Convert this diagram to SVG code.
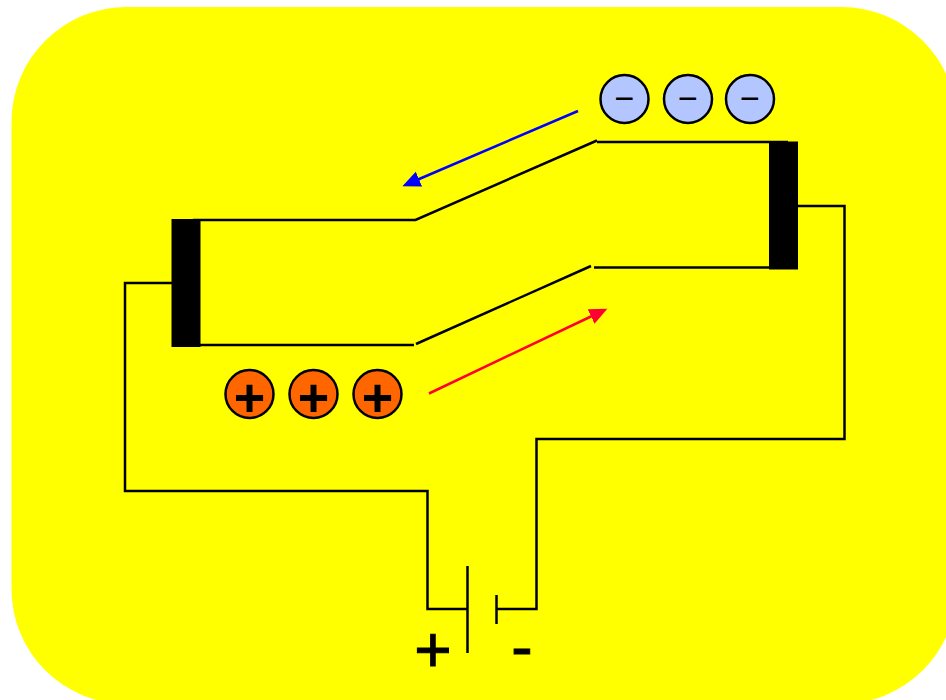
<svg xmlns="http://www.w3.org/2000/svg" width="946" height="700" viewBox="0 0 946 700">
<style>
.w{fill:none;stroke:#000;stroke-width:2.5;stroke-linejoin:miter}
.n circle{stroke:#000;stroke-width:2.5}
.neg circle{fill:#b3c6ff}
.pos circle{fill:#ff6600}
text{font-family:"Liberation Sans",Arial,sans-serif;fill:#000;text-anchor:middle}
.ps{font-size:54px;font-weight:700}
.ms{font-size:34px}
.big{font-size:64px;stroke:#000;stroke-width:1}
</style>
<defs>
<marker id="ab" markerUnits="userSpaceOnUse" markerWidth="20" markerHeight="18" refX="1" refY="9" orient="auto"><path d="M18 9L0 1V17Z" fill="#0000ff"/></marker>
<marker id="ar" markerUnits="userSpaceOnUse" markerWidth="20" markerHeight="18" refX="1" refY="9" orient="auto"><path d="M18 9L0 1V17Z" fill="#ff0033"/></marker>
</defs>
<rect id="background" x="11.500" y="7" width="945" height="697" rx="115" fill="#ffff00"/>
<g id="connectors">
<path class="w" d="M172 283H125V491H427.500V609H467"/>
<path class="w" d="M797 206H844.500V439H536.500V609H497"/>
<path class="w" d="M193 220H415.500L597 140.500"/>
<path class="w" d="M597 142H788"/>
<path class="w" d="M193 345H414"/>
<path class="w" d="M416 344L591 266"/>
<path class="w" d="M594 267.500H788"/>
<path fill="none" stroke="#0000ff" stroke-width="2.500" d="M578 111L418 179.500" marker-end="url(#ab)"/>
<path fill="none" stroke="#ff0033" stroke-width="2.500" d="M429 393.500L592 316" marker-end="url(#ar)"/>
</g>
<g id="plate-left"><rect x="171.500" y="219" width="29" height="128"/></g>
<g id="plate-right"><rect x="769" y="141.500" width="29" height="128"/></g>
<g id="battery">
<path class="w" d="M467.500 566V653M496.500 595V624"/>
<text class="big" x="433" y="672">+</text>
<text class="big" x="522" y="669">-</text>
</g>
<g id="neg1" class="n neg"><circle cx="624.500" cy="99" r="24"/><text class="ms" x="624.500" y="110">−</text></g>
<g id="neg2" class="n neg"><circle cx="688" cy="99" r="24"/><text class="ms" x="688" y="110">−</text></g>
<g id="neg3" class="n neg"><circle cx="750" cy="99" r="24"/><text class="ms" x="750" y="110">−</text></g>
<g id="pos1" class="n pos"><circle cx="249.500" cy="394" r="24"/><text class="ps" x="249.500" y="416">+</text></g>
<g id="pos2" class="n pos"><circle cx="313.500" cy="394" r="24"/><text class="ps" x="313.500" y="416">+</text></g>
<g id="pos3" class="n pos"><circle cx="377.500" cy="394" r="24"/><text class="ps" x="377.500" y="416">+</text></g>
</svg>
